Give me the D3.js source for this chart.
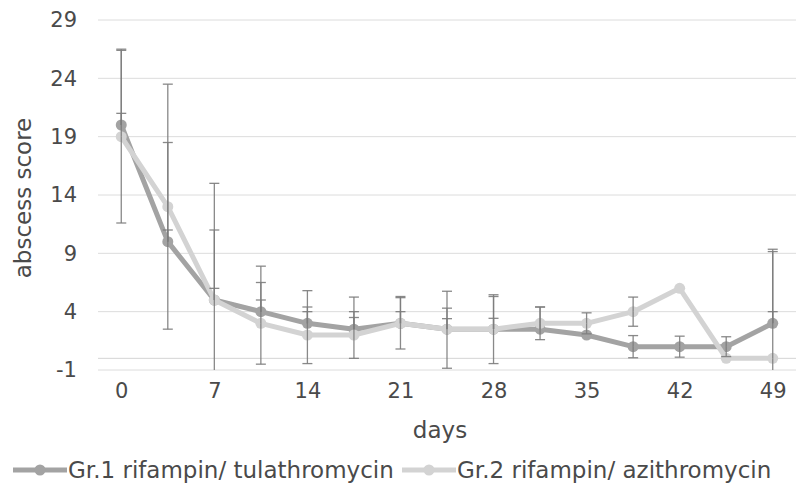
<!DOCTYPE html>
<html>
<head>
<meta charset="utf-8">
<script src="https://cdn.jsdelivr.net/npm/d3@7"></script>
<style>
  html, body { margin: 0; padding: 0; background: #fff; }
  svg { display: block; }
  text { font-family: "DejaVu Sans", "Open Sans", sans-serif; fill: #4a4a4a; }
</style>
</head>
<body>
<svg id="chart" width="803" height="492"></svg>
<script>
// ---- data ----
const days = [0, 3.5, 7, 10.5, 14, 17.5, 21, 24.5, 28, 31.5, 35, 38.5, 42, 45.5, 49];
const xTickLabels = ["0", "7", "14", "21", "28", "35", "42", "49"];
const yTicks = [-1, 4, 9, 14, 19, 24, 29];
const seriesNames = ["Gr.1 rifampin/ tulathromycin", "Gr.2 rifampin/ azithromycin"];
const gr1 = [20, 10, 5, 4, 3, 2.5, 3, 2.5, 2.5, 2.5, 2, 1, 1, 1, 3];
const gr2 = [19, 13, 5, 3, 2, 2, 3, 2.5, 2.5, 3, 3, 4, 6, 0, 0];
// custom error amounts (Excel custom plus / minus values; negative minus draws upward)
const gr1Plus  = [6.5, 8.5, 10, 3.9, 2.8, 2.75, 2.3, 1.8, 2.8, 1.9, null, 0.95, 0.9, 0.85, 6.35];
const gr1Minus = [-1, -1, -1, -1, -1, -1, -1, -0.9, -0.93, null, null, 0.95, 0.9, 0.85, -1];
const gr2Plus  = [7.4, 10.5, 6, 3.5, 2.4, 2, 2.2, 3.25, 2.95, 1.4, 0.9, 1.25, null, null, 9.15];
const gr2Minus = [7.4, 10.5, 10, 3.5, 2.45, 2, 2.2, 3.35, 2.95, 1.4, 0.9, 1.25, null, null, 9];

// ---- layout ----
const svg = d3.select("#chart");
const plot = { left: 98, right: 796, top: 20, bottom: 370 };
const colors = ["#a3a3a3", "#d3d3d3"];
const errColor = "#7d7d7d";
const tickFont = "21px";
const titleFont = "23px";

const x = d3.scalePoint().domain(days).range([plot.left, plot.right]).padding(0.5);
const y = d3.scaleLinear().domain([-1, 29]).range([plot.bottom, plot.top]);

// gridlines
svg.append("g").selectAll("line").data(yTicks).join("line")
  .attr("x1", plot.left).attr("x2", plot.right)
  .attr("y1", d => y(d)).attr("y2", d => y(d))
  .attr("stroke", "#dcdcdc").attr("stroke-width", 1);
// horizontal axis line at 0
svg.append("line")
  .attr("x1", plot.left).attr("x2", plot.right)
  .attr("y1", y(0)).attr("y2", y(0))
  .attr("stroke", "#d4d4d4").attr("stroke-width", 1);

// y axis labels
const yAxis = d3.axisLeft(y).tickValues(yTicks).tickSize(0).tickPadding(0).tickFormat(d => String(d));
const gy = svg.append("g").attr("transform", `translate(${77},0)`).call(yAxis);
gy.select(".domain").remove();
gy.selectAll("text").style("font-size", tickFont).attr("fill", "#4a4a4a")
  .style("font-family", null);

// x axis labels
const xAxis = d3.axisBottom(x).tickValues(days.filter(d => xTickLabels.includes(String(d))))
  .tickSize(0).tickPadding(0).tickFormat(d => String(d));
const gx = svg.append("g").attr("transform", `translate(0,${383})`).call(xAxis);
gx.select(".domain").remove();
gx.selectAll("text").style("font-size", tickFont).attr("fill", "#4a4a4a").attr("dy", "0.71em")
  .style("font-family", null);

// axis titles
svg.append("text").attr("x", 440).attr("y", 438).attr("text-anchor", "middle")
  .style("font-size", titleFont).text("days");
svg.append("text").attr("transform", `translate(31,${198}) rotate(-90)`).attr("text-anchor", "middle")
  .style("font-size", titleFont).text("abscess score");

// clip
svg.append("clipPath").attr("id", "clip").append("rect")
  .attr("x", plot.left - 10).attr("y", plot.top - 10)
  .attr("width", plot.right - plot.left + 20).attr("height", plot.bottom - plot.top + 10);

const series = [
  { name: seriesNames[0], values: gr1, plus: gr1Plus, minus: gr1Minus, color: colors[0] },
  { name: seriesNames[1], values: gr2, plus: gr2Plus, minus: gr2Minus, color: colors[1] }
];

const line = d3.line().x((d, i) => x(days[i])).y(d => y(d));
const chartG = svg.append("g").attr("clip-path", "url(#clip)");

series.forEach(s => {
  chartG.append("path").datum(s.values).attr("d", line)
    .attr("fill", "none").attr("stroke", s.color).attr("stroke-width", 5)
    .attr("stroke-linejoin", "round");
  chartG.append("g").selectAll("circle").data(s.values).join("circle")
    .attr("cx", (d, i) => x(days[i])).attr("cy", d => y(d)).attr("r", 5.5)
    .attr("fill", s.color);
});

// error bars
const errG = chartG.append("g");
const capW = 5;
series.forEach(s => {
  const segs = [];
  s.values.forEach((v, i) => {
    const cx = x(days[i]);
    [s.plus[i] != null ? v + s.plus[i] : null, s.minus[i] != null ? v - s.minus[i] : null]
      .forEach(end => {
        if (end == null) return;
        segs.push({ x1: cx, x2: cx, y1: y(v), y2: y(Math.max(end, -1)) });
        if (end >= -1) segs.push({ x1: cx - capW, x2: cx + capW, y1: y(end), y2: y(end) });
      });
  });
  errG.selectAll(null).data(segs).join("line")
    .attr("x1", d => d.x1).attr("x2", d => d.x2).attr("y1", d => d.y1).attr("y2", d => d.y2)
    .attr("stroke", errColor).attr("stroke-width", 1.3).attr("opacity", 0.9);
});

// legend
const legendY = 470;
const legendX = [13, 402];
series.forEach((s, i) => {
  const g = svg.append("g").attr("transform", `translate(${legendX[i]},${legendY})`);
  g.append("line").attr("x1", 0).attr("x2", 54).attr("y1", 0).attr("y2", 0)
    .attr("stroke", s.color).attr("stroke-width", 5);
  g.append("circle").attr("cx", 27).attr("cy", 0).attr("r", 5.5).attr("fill", s.color);
  g.append("text").attr("x", 55).attr("y", 0).attr("dy", "0.35em")
    .style("font-size", titleFont).text(s.name);
});
</script>
</body>
</html>
